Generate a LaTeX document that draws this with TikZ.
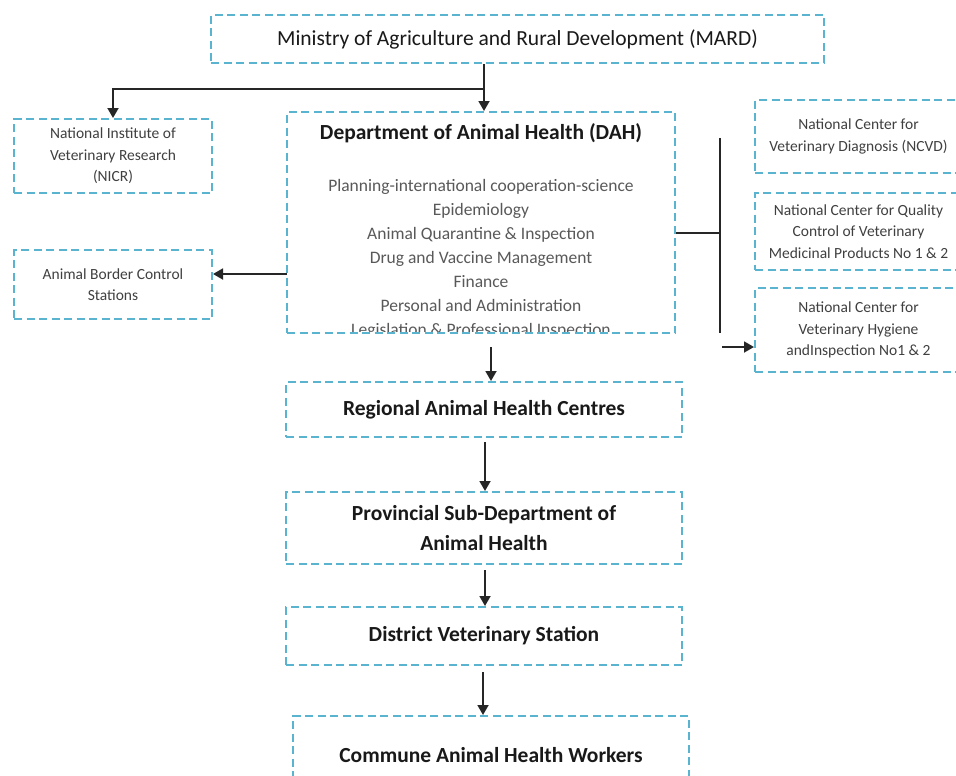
\documentclass[tikz,border=0pt]{standalone}
\usepackage{fontspec}
\setmainfont{Carlito}
\usetikzlibrary{arrows.meta,calc}
\definecolor{dashblue}{HTML}{5AB4CF}
\definecolor{listgray}{HTML}{595959}
\definecolor{smallgray}{HTML}{404040}
\begin{document}
\begin{tikzpicture}[x=1pt,y=-1pt,
  box/.style={draw=dashblue, line width=2pt, dash pattern=on 8pt off 4.5pt, rectangle, inner sep=0pt, align=center},
  ttl/.style={font=\fontsize{21.5}{30}\selectfont\bfseries, text=black!90},
  mardtxt/.style={font=\fontsize{21.5}{26}\selectfont, text=black!90},
  small/.style={font=\fontsize{15.5}{21.5}\selectfont, text=smallgray},
  listtxt/.style={font=\fontsize{17.5}{24}\selectfont, text=listgray, align=center},
  ln/.style={draw=black!85, line width=1.8pt},
  arr/.style={ln, -{Triangle[length=10pt,width=11pt]}}]
\clip (0,0) rectangle (956,776);
\fill[white] (0,0) rectangle (956,776);

% boxes
\node[box, mardtxt, minimum width=613pt, minimum height=48pt] (mard) at (517.5,39) {Ministry of Agriculture and Rural Development (MARD)};
\node[box, small, minimum width=198pt, minimum height=74pt] (nicr) at (113,156) {National Institute of\\Veterinary Research\\(NICR)};
\node[box, small, minimum width=198pt, minimum height=69pt] (border) at (113,284.5) {Animal Border Control\\Stations};
\node[box, minimum width=388pt, minimum height=221pt] (dah) at (481,222.5) {};
\node[ttl] (dahtitle) at (481,133) {Department of Animal Health (DAH)};
\begin{scope}
  \clip (287,112) rectangle (675,331.5);
  \node[listtxt] (dahlist) at (481,259) {Planning-international cooperation-science\\Epidemiology\\Animal Quarantine \& Inspection\\Drug and Vaccine Management\\Finance\\Personal and Administration\\Legislation \& Professional Inspection};
\end{scope}
\node[box, small, minimum width=207pt, minimum height=73pt] (ncvd) at (858.5,136.5) {National Center for\\Veterinary Diagnosis (NCVD)};
\node[box, small, minimum width=207pt, minimum height=77pt] (ncqc) at (858.5,231.5) {National Center for Quality\\Control of Veterinary\\Medicinal Products No 1 \& 2};
\node[box, small, minimum width=207pt, minimum height=84pt] (ncvh) at (858.5,330) {National Center for\\Veterinary Hygiene\\andInspection No1 \& 2};
\node[box, ttl, minimum width=396pt, minimum height=55pt] (regional) at (484,409.5) {Regional Animal Health Centres};
\node[box, ttl, minimum width=396pt, minimum height=72pt] (prov) at (484,528) {Provincial Sub-Department of\\Animal Health};
\node[box, ttl, minimum width=396pt, minimum height=58pt] (district) at (484,636) {District Veterinary Station};
\node[box, ttl, minimum width=396pt, minimum height=78pt] (commune) at (491,755) {Commune Animal Health Workers};

% connectors
\coordinate (j1) at (484,89);
\draw[ln] (mard.south -| j1) -- (j1);
\draw[arr] (j1) -- (j1 |- dah.north);
\draw[arr] (j1) -| (nicr.north);

\coordinate (bl) at (287,274);
\draw[arr] (bl) -- (border.east |- bl);

\coordinate (rj) at (720,233);
\coordinate (rtop) at (720,138);
\coordinate (rbot) at (720,333);
\draw[ln] (dah.east |- rj) -- (rj);
\draw[ln] (rtop) -- (rbot);
\coordinate (ra) at (722,347);
\draw[arr] (ra) -- (ncvh.west |- ra);

\coordinate (d1) at (491,347);
\draw[arr] (d1) -- (d1 |- regional.north);
\coordinate (d2) at (485,442);
\draw[arr] (d2) -- (d2 |- prov.north);
\coordinate (d3) at (485,570);
\draw[arr] (d3) -- (d3 |- district.north);
\coordinate (d4) at (483,672);
\draw[arr] (d4) -- (d4 |- commune.north);
\end{tikzpicture}
\end{document}
